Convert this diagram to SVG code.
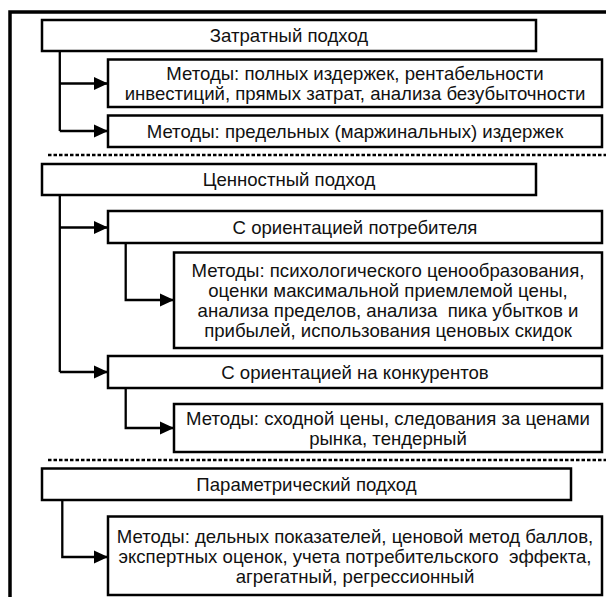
<svg xmlns="http://www.w3.org/2000/svg" width="606" height="597" viewBox="0 0 606 597">
<style>
.box{fill:#fff;stroke:#000;stroke-width:2.5}
.t{font-family:"Liberation Sans",Arial,sans-serif;font-size:18.6px;fill:#111;text-anchor:middle}
.c{fill:none;stroke:#000;stroke-width:2.3}
.d{fill:none;stroke:#000;stroke-width:2.5;stroke-dasharray:3.5 2}
</style>
<defs>
<marker id="ah" markerUnits="userSpaceOnUse" markerWidth="15" markerHeight="14" refX="14.5" refY="7" orient="auto">
<path d="M0,0.3 L14.5,7 L0,13.7 Z" fill="#000"/>
</marker>
</defs>
<rect width="606" height="597" fill="#fff"/>
<path d="M10,597 V12 H606" fill="none" stroke="#000" stroke-width="3.5"/>
<g id="separators">
<line class="d" x1="48" y1="155" x2="606" y2="155"/>
<line class="d" x1="48" y1="460" x2="606" y2="460"/>
</g>
<g id="connectors">
<path class="c" d="M59.8,51 V131"/>
<path class="c" d="M59.8,83.5 H108" marker-end="url(#ah)"/>
<path class="c" d="M59.8,131 H108" marker-end="url(#ah)"/>
<path class="c" d="M59.8,195 V372"/>
<path class="c" d="M59.8,227.5 H108" marker-end="url(#ah)"/>
<path class="c" d="M59.8,372 H108" marker-end="url(#ah)"/>
<path class="c" d="M125.7,243 V300 H174" marker-end="url(#ah)"/>
<path class="c" d="M125.7,388 V428 H174" marker-end="url(#ah)"/>
<path class="c" d="M62.3,500 V557 H108" marker-end="url(#ah)"/>
</g>
<g id="n1"><rect class="box" x="42" y="20" width="494" height="31"/><text class="t" x="289" y="42.2">Затратный подход</text></g>
<g id="n2"><rect class="box" x="108" y="59.5" width="494" height="47.5"/><text class="t" x="355" y="80">Методы: полных издержек, рентабельности</text><text class="t" x="355" y="99.5">инвестиций, прямых затрат, анализа безубыточности</text></g>
<g id="n3"><rect class="box" x="108" y="115.5" width="494" height="31.5"/><text class="t" x="355" y="137.7">Методы: предельных (маржинальных) издержек</text></g>
<g id="n4"><rect class="box" x="42" y="164" width="494" height="31"/><text class="t" x="289" y="186.2">Ценностный подход</text></g>
<g id="n5"><rect class="box" x="108" y="211" width="494" height="32"/><text class="t" x="355" y="233.7">С ориентацией потребителя</text></g>
<g id="n6"><rect class="box" x="174" y="252.5" width="428" height="95.5"/><text class="t" x="388" y="277">Методы: психологического ценообразования,</text><text class="t" x="388" y="297">оценки максимальной приемлемой цены,</text><text class="t" x="388" y="317" xml:space="preserve">анализа пределов, анализа  пика убытков и</text><text class="t" x="388" y="337">прибылей, использования ценовых скидок</text></g>
<g id="n7"><rect class="box" x="108" y="356" width="494" height="32"/><text class="t" x="355" y="378.7">С ориентацией на конкурентов</text></g>
<g id="n8"><rect class="box" x="174" y="404" width="428" height="48"/><text class="t" x="388" y="424.7">Методы: сходной цены, следования за ценами</text><text class="t" x="388" y="444.7">рынка, тендерный</text></g>
<g id="n9"><rect class="box" x="42" y="468.5" width="529" height="31.5"/><text class="t" x="306.5" y="491">Параметрический подход</text></g>
<g id="n10"><rect class="box" x="108" y="516.5" width="494" height="78.5"/><text class="t" x="355" y="542.5">Методы: дельных показателей, ценовой метод баллов,</text><text class="t" x="355" y="562.5" xml:space="preserve">экспертных оценок, учета потребительского  эффекта,</text><text class="t" x="355" y="582.5">агрегатный, регрессионный</text></g>
</svg>
